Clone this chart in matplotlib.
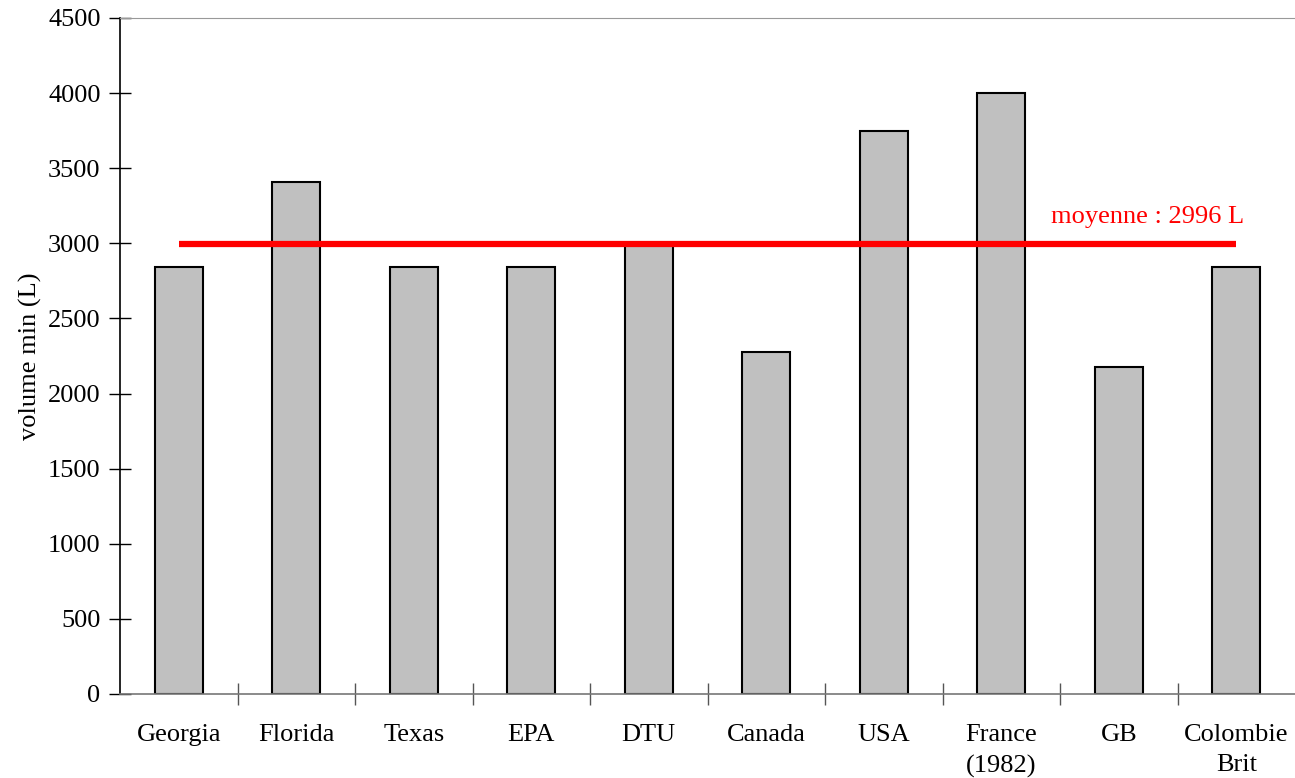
import matplotlib
matplotlib.use("Agg")
import matplotlib.pyplot as plt
import numpy as np

categories = ["Georgia", "Florida", "Texas", "EPA", "DTU", "Canada", "USA",
              "France\n(1982)", "GB", "Colombie\nBrit"]
volumes = [2840, 3410, 2840, 2840, 3000, 2275, 3750, 4000, 2180, 2840]
mean_value = 2996
mean_label = "moyenne : 2996 L"
y_ticks = [0, 500, 1000, 1500, 2000, 2500, 3000, 3500, 4000, 4500]

plt.rcParams["font.family"] = ["Liberation Serif", "DejaVu Serif"]
plt.rcParams["font.size"] = 19

fig = plt.figure(figsize=(12.95, 7.78), dpi=100)
ax = fig.add_axes([120 / 1295, 1 - 694 / 778, 1175 / 1295, 676 / 778])

x = np.arange(len(categories))
ax.bar(x, volumes, width=0.41, color="#c0c0c0", edgecolor="black", linewidth=1.5, zorder=2)
ax.plot(x, [mean_value] * len(x), color="#ff0000", linewidth=4.5, solid_capstyle="butt", zorder=3)
ax.text(x[-1] + 0.07, 3136, mean_label, color="#ff0000", ha="right", va="baseline")

ax.set_xlim(-0.5, len(categories) - 0.5)
ax.set_ylim(0, 4500)
ax.set_yticks(y_ticks)
ax.set_ylabel("volume min (L)", labelpad=4)

ax.set_xticks(x)
ax.set_xticklabels(categories, va="top", linespacing=1.5)
ax.tick_params(axis="x", which="major", length=0, pad=21.5)
ax.set_xticks(np.arange(0.5, len(categories) - 0.5, 1), minor=True)
ax.tick_params(axis="x", which="minor", direction="inout", length=16, width=1, color="#555555")
ax.tick_params(axis="y", direction="inout", length=16, width=1, pad=6)

ax.spines["right"].set_visible(False)
ax.spines["left"].set_color("black")
ax.spines["left"].set_linewidth(1.2)
ax.spines["top"].set_color("#999999")
ax.spines["bottom"].set_color("#777777")
ax.spines["bottom"].set_linewidth(1.2)

fig.savefig("out.png", dpi=100)
